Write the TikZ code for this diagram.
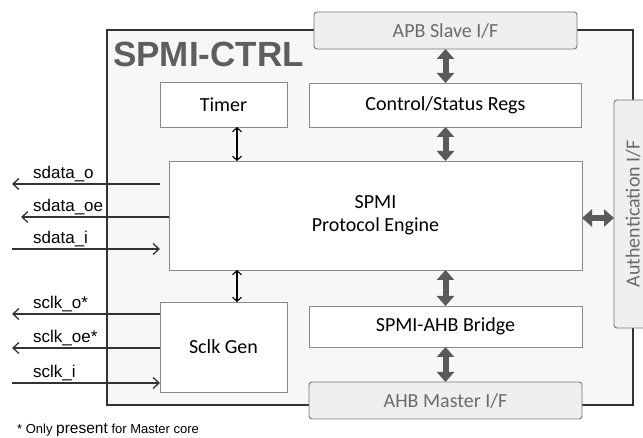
\documentclass[tikz,border=0pt]{standalone}
\usepackage{fontspec}
\setmainfont{Carlito}
\newfontfamily\arialf{Liberation Sans}
\usetikzlibrary{arrows.meta}
\definecolor{framec}{HTML}{333333}
\definecolor{outerfill}{HTML}{F7F7F7}
\definecolor{boxline}{HTML}{8A8A8A}
\definecolor{ifill}{HTML}{EFEFEF}
\definecolor{ifline}{HTML}{777777}
\definecolor{itext}{HTML}{6B6B6B}
\definecolor{titlegray}{HTML}{5E5E5E}
\definecolor{arrowgray}{HTML}{5A5A5A}
\definecolor{sigline}{HTML}{333333}
\begin{document}
\begin{tikzpicture}[x=1pt,y=-1pt,
  outerbox/.style={draw=framec, fill=outerfill, line width=1.6pt, inner sep=0pt, outer sep=0pt},
  box/.style={draw=boxline, fill=white, line width=0.9pt, inner sep=0pt, outer sep=0pt,
              font=\fontsize{20}{23}\selectfont, align=center},
  iface/.style={box, fill=ifill, draw=ifline, rounded corners=3pt, text=itext},
  fatarrow/.style={draw=arrowgray, line width=6pt,
              {Triangle[width=17pt,length=10pt]}-{Triangle[width=17pt,length=10pt]}},
  thinarrow/.style={draw=black, line width=1.1pt,
              {Straight Barb[length=4pt,width=9pt]}-{Straight Barb[length=4pt,width=9pt]}},
  sig/.style={draw=sigline, line width=1.3pt, -{Straight Barb[length=6pt,width=11pt]}},
  siglabel/.style={font=\arialf\fontsize{17}{20}\selectfont, anchor=base west, inner sep=0pt}]
\useasboundingbox (0,0) rectangle (643,438);

% outer block
\node[outerbox, minimum width=526pt, minimum height=375pt] (ctrl) at (370,217.5) {};
\node[anchor=base west, inner sep=0pt, text=titlegray,
      font=\arialf\bfseries\fontsize{35}{40}\selectfont] (title) at (113,67) {SPMI-CTRL};

% interface boxes
\node[iface, minimum width=263pt, minimum height=37pt] (apb) at (445.5,30.5) {APB Slave I/F};
\node[iface, minimum width=273pt, minimum height=37pt] (ahb) at (445.5,400.5) {AHB Master I/F};
\node[iface, minimum width=38pt, minimum height=228pt] (auth) at (633,214) {\rotatebox{90}{Authentication I/F}};

% inner boxes
\node[box, minimum width=127pt, minimum height=45pt] (timer) at (223.5,104.5) {Timer};
\node[box, minimum width=272pt, minimum height=44pt] (regs) at (445.5,105) {Control/Status Regs};
\node[box, minimum width=413pt, minimum height=109pt] (engine) at (375.5,215.5) {SPMI\\Protocol Engine};
\node[box, minimum width=127pt, minimum height=90pt] (sclk) at (223.5,347) {Sclk Gen};
\node[box, minimum width=273pt, minimum height=41pt] (bridge) at (445.5,326.5) {SPMI-AHB Bridge};

% fat arrows
\draw[fatarrow] (apb.south) -- (regs.north);
\draw[fatarrow] (regs.south) -- (regs.south |- engine.north);
\draw[fatarrow] (bridge.north |- engine.south) -- (bridge.north);
\draw[fatarrow] (bridge.south) -- (ahb.north);
\draw[fatarrow] ([yshift=-2.5pt]engine.east) -- ([yshift=-2.5pt]engine.east -| auth.west);

% thin arrows
\draw[thinarrow] ([xshift=13.5pt]timer.south) -- ([xshift=13.5pt]timer.south |- engine.north);
\draw[thinarrow] ([xshift=13.5pt]sclk.north |- engine.south) -- ([xshift=13.5pt]sclk.north);

% signals
\coordinate (so-in) at (160,184);
\coordinate (so-out) at (12,184);
\coordinate (soe-out) at (21,217);
\coordinate (si-in) at (12,249);
\coordinate (si-end) at (160,249);
\coordinate (co-out) at (12,314);
\coordinate (coe-out) at (12,348);
\coordinate (ci-in) at (12,383);

\draw[sig] (so-in) -- (so-out);
\draw[sig] (engine.west |- soe-out) -- (soe-out);
\draw[sig] (si-in) -- (si-end);
\draw[sig] (sclk.west |- co-out) -- (co-out);
\draw[sig] (sclk.west |- coe-out) -- (coe-out);
\draw[sig] (ci-in) -- (sclk.west |- ci-in);

\node[siglabel] (l1) at (33,178.5) {sdata\_o};
\node[siglabel] (l2) at (33,211.5) {sdata\_oe};
\node[siglabel] (l3) at (33,243.5) {sdata\_i};
\node[siglabel] (l4) at (33,308.5) {sclk\_o*};
\node[siglabel] (l5) at (33,342.5) {sclk\_oe*};
\node[siglabel] (l6) at (33,377.5) {sclk\_i};

% footnote
\node[anchor=base west, inner sep=0pt, font=\arialf\fontsize{13}{15}\selectfont] (note) at (17,433)
  {* Only {\fontsize{15.5}{17}\selectfont present} for Master core};
\end{tikzpicture}
\end{document}
